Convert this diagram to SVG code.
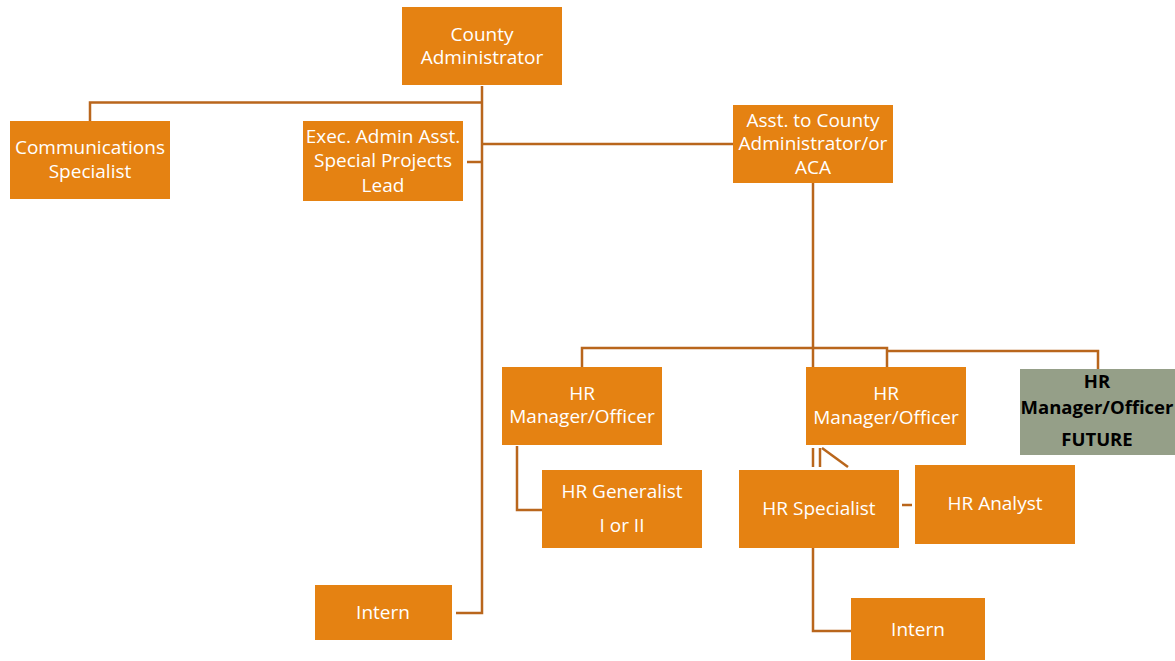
<svg xmlns="http://www.w3.org/2000/svg" width="1175" height="661" viewBox="0 0 1175 661">
<style>
.box{fill:#e58212;}
.fut{fill:#959f88;}
.t{font-family:"Open Sans","Liberation Sans",sans-serif;font-size:19px;fill:#ffffff;text-anchor:middle;}
.tb{font-family:"Open Sans","Liberation Sans",sans-serif;font-size:18.5px;font-weight:bold;fill:#000000;text-anchor:middle;}
.c{fill:none;stroke:#b9661c;stroke-width:2.5;}
</style>
<rect width="1175" height="661" fill="#ffffff"/>
<g id="connectors">
<polyline class="c" points="90,121 90,102.5 482,102.5"/>
<polyline class="c" points="482,86 482,613 456,613"/>
<line class="c" x1="467" y1="162" x2="482" y2="162"/>
<line class="c" x1="482" y1="144" x2="733" y2="144"/>
<line class="c" x1="813" y1="183" x2="813" y2="367"/>
<polyline class="c" points="582,367 582,348 887,348 887,367"/>
<polyline class="c" points="887,351 1098,351 1098,369"/>
<polyline class="c" points="517,446 517,510 542,510"/>
<line class="c" x1="813" y1="448" x2="813" y2="467"/>
<line class="c" x1="820" y1="448" x2="820" y2="467"/>
<line class="c" x1="822" y1="448" x2="848" y2="467"/>
<line class="c" x1="902" y1="505" x2="912" y2="505"/>
<polyline class="c" points="813,548 813,631 851,631"/>
</g>
<g id="county-admin"><rect class="box" x="402" y="7" width="160" height="78"/><text class="t" x="482" y="41">County</text><text class="t" x="482" y="64">Administrator</text></g>
<g id="comm-spec"><rect class="box" x="10" y="121" width="160" height="78"/><text class="t" x="90" y="154">Communications</text><text class="t" x="90" y="178">Specialist</text></g>
<g id="exec-admin"><rect class="box" x="303" y="121" width="160" height="80"/><text class="t" x="383" y="143">Exec. Admin Asst.</text><text class="t" x="383" y="167">Special Projects</text><text class="t" x="383" y="192">Lead</text></g>
<g id="asst-county"><rect class="box" x="733" y="105" width="160" height="78"/><text class="t" x="813" y="127">Asst. to County</text><text class="t" x="813" y="150">Administrator/or</text><text class="t" x="813" y="174">ACA</text></g>
<g id="hr-mgr-1"><rect class="box" x="502" y="367" width="160" height="78"/><text class="t" x="582" y="400">HR</text><text class="t" x="582" y="423">Manager/Officer</text></g>
<g id="hr-mgr-2"><rect class="box" x="806" y="367" width="160" height="78"/><text class="t" x="886" y="400">HR</text><text class="t" x="886" y="424">Manager/Officer</text></g>
<g id="hr-mgr-future"><rect class="fut" x="1020" y="369" width="155" height="86"/><text class="tb" x="1097" y="388">HR</text><text class="tb" x="1097" y="414">Manager/Officer</text><text class="tb" x="1097" y="446">FUTURE</text></g>
<g id="hr-generalist"><rect class="box" x="542" y="470" width="160" height="78"/><text class="t" x="622" y="498">HR Generalist</text><text class="t" x="622" y="532">I or II</text></g>
<g id="hr-specialist"><rect class="box" x="739" y="470" width="160" height="78"/><text class="t" x="819" y="515">HR Specialist</text></g>
<g id="hr-analyst"><rect class="box" x="915" y="465" width="160" height="79"/><text class="t" x="995" y="510">HR Analyst</text></g>
<g id="intern-1"><rect class="box" x="315" y="585" width="137" height="55"/><text class="t" x="383" y="619">Intern</text></g>
<g id="intern-2"><rect class="box" x="851" y="598" width="134" height="62"/><text class="t" x="918" y="636">Intern</text></g>
</svg>
